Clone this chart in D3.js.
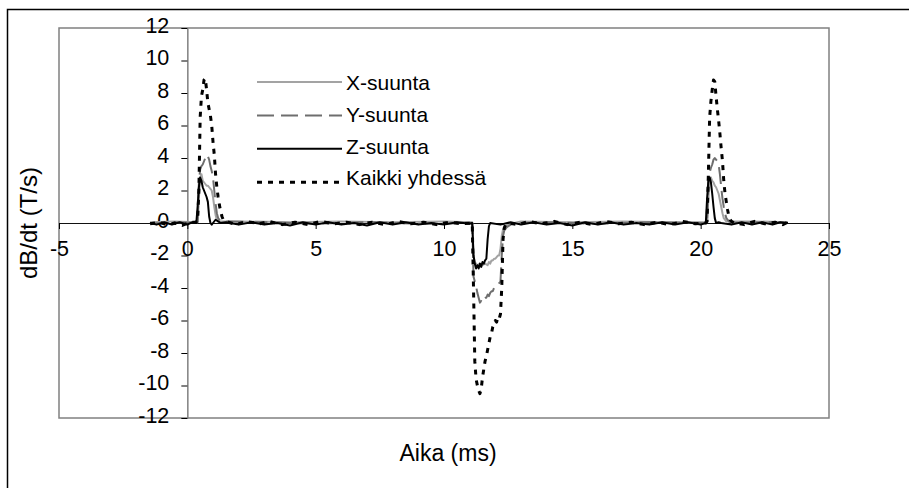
<!DOCTYPE html>
<html>
<head>
<meta charset="utf-8">
<script src="https://cdn.jsdelivr.net/npm/d3@7"></script>
<style>
  html, body { margin: 0; padding: 0; background: #fff; }
  svg { display: block; font-family: "Liberation Sans", Arial, sans-serif; }
</style>
</head>
<body>
<svg id="chart" width="909" height="488"></svg>
<script>
// ---------- data ----------
const xTicks = [-5, 0, 5, 10, 15, 20, 25];
const yTicks = [-12, -10, -8, -6, -4, -2, 0, 2, 4, 6, 8, 10, 12];
const seriesNames = ["X-suunta", "Y-suunta", "Z-suunta", "Kaikki yhdessä"];
const xTitle = "Aika (ms)";
const yTitle = "dB/dt (T/s)";

// [time (ms), dB/dt (T/s)]
const xSuunta = [
  [-1.45, 0.05], [-0.5, 0.1], [0.4, 0.05], [0.45, 1.5], [0.5, 2.8], [0.55, 3.0], [0.6, 2.6], [0.65, 2.5],
  [0.7, 2.4], [0.75, 2.3], [0.8, 2.3], [0.85, 2.2], [0.9, 2.1], [0.95, 2.0], [1.0, 1.6], [1.05, 1.0],
  [1.1, 0.5], [1.15, 0.2], [1.2, 0.1], [2, 0.1], [4, 0.05], [6, 0.1], [8, 0.05], [10, 0.1], [11.1, 0.05],
  [11.15, -2.0], [11.2, -2.4], [11.3, -2.6], [11.4, -2.5], [11.5, -2.6], [11.6, -2.5], [11.7, -2.6],
  [11.75, -2.4], [11.8, -2.5], [11.85, -2.3], [11.9, -2.3], [11.95, -2.2], [12.0, -2.2], [12.05, -2.1],
  [12.1, -2.0], [12.15, -2.0], [12.2, -1.6], [12.25, -0.8], [12.3, -0.4], [12.35, -0.25], [12.45, -0.15],
  [12.6, -0.05], [13, 0.1], [15, 0.05], [17, 0.1], [19, 0.05], [20.25, 0.05], [20.3, 1.5], [20.35, 2.6],
  [20.4, 2.8], [20.45, 2.6], [20.5, 2.5], [20.55, 2.3], [20.6, 2.2], [20.65, 2.0], [20.7, 1.8], [20.75, 1.4],
  [20.8, 1.0], [20.85, 0.6], [20.9, 0.3], [21.0, 0.1], [22, 0.1], [23.4, 0.05]
];
const ySuunta = [
  [-1.45, -0.05], [-0.5, 0.05], [0.4, 0.0], [0.45, 2.5], [0.5, 3.3], [0.55, 3.5], [0.6, 3.6], [0.65, 3.8],
  [0.7, 4.0], [0.75, 4.2], [0.8, 4.1], [0.85, 3.9], [0.9, 3.5], [0.95, 3.2], [1.0, 2.8], [1.05, 2.0],
  [1.1, 1.2], [1.15, 0.6], [1.2, 0.3], [1.3, 0.1], [3, 0.05], [5, -0.05], [7, 0.05], [9, -0.05], [11.1, 0.0],
  [11.15, -3.3], [11.2, -3.6], [11.25, -3.9], [11.3, -4.3], [11.35, -4.6], [11.4, -4.9], [11.45, -4.8],
  [11.5, -4.9], [11.55, -4.7], [11.6, -4.6], [11.65, -4.6], [11.7, -4.4], [11.75, -4.5], [11.8, -4.3],
  [11.85, -4.2], [11.9, -4.2], [11.95, -4.0], [12.0, -4.0], [12.05, -3.9], [12.1, -3.8], [12.15, -3.7],
  [12.2, -3.6], [12.25, -2.0], [12.3, -0.8], [12.35, -0.45], [12.45, -0.25], [12.6, -0.1], [12.8, 0.0],
  [14, 0.05], [16, -0.05], [18, 0.05], [20.25, 0.0], [20.3, 2.5], [20.35, 3.1], [20.4, 3.4], [20.45, 3.6],
  [20.5, 3.9], [20.55, 4.0], [20.6, 3.9], [20.65, 3.8], [20.7, 3.6], [20.75, 3.0], [20.8, 2.2], [20.85, 1.5],
  [20.9, 1.0], [20.95, 0.6], [21.0, 0.3], [21.1, 0.1], [21.2, 0.0], [22.5, 0.05], [23.4, 0.0]
];
const zSuunta = [
  [-1.45, 0.0], [-1.2, -0.1], [-0.9, 0.05], [-0.6, -0.1], [-0.3, 0.05], [0.0, -0.1], [0.2, 0.05], [0.35, 0.0],
  [0.4, 1.0], [0.45, 2.2], [0.5, 2.8], [0.55, 2.6], [0.6, 2.2], [0.65, 2.0], [0.7, 1.8], [0.75, 1.6],
  [0.8, 1.3], [0.85, 0.4], [0.9, 0.0], [0.95, -0.1], [1.0, 0.0], [1.1, 0.2], [1.2, 0.1], [1.3, 0.0],
  [1.5, 0.05], [2.0, -0.1], [2.5, 0.05], [3.0, -0.1], [3.5, 0.0], [4.0, -0.15], [4.5, 0.05], [5.0, -0.1],
  [5.5, 0.05], [6.0, -0.1], [6.5, 0.0], [7.0, -0.15], [7.5, 0.05], [8.0, -0.1], [8.5, 0.05], [9.0, -0.1],
  [9.5, 0.0], [10.0, -0.1], [10.5, 0.05], [11.0, -0.05], [11.1, 0.0],
  [11.15, -2.0], [11.2, -2.5], [11.25, -2.8], [11.3, -2.6], [11.35, -2.8], [11.4, -2.5], [11.45, -2.7],
  [11.5, -2.4], [11.55, -2.5], [11.6, -2.3], [11.65, -2.2], [11.7, -1.0], [11.75, -0.2], [11.8, 0.0],
  [12.2, -0.1], [12.6, 0.05], [13.0, -0.1], [13.5, 0.05], [14.0, -0.1], [14.5, 0.0], [15.0, -0.15],
  [15.5, 0.05], [16.0, -0.1], [16.5, 0.05], [17.0, -0.1], [17.5, 0.0], [18.0, -0.1], [18.5, 0.05],
  [19.0, -0.1], [19.5, 0.05], [20.0, -0.1], [20.2, 0.0],
  [20.25, 1.5], [20.3, 2.6], [20.35, 2.8], [20.4, 2.5], [20.45, 1.8], [20.5, 1.0], [20.55, 0.3], [20.6, 0.0],
  [20.7, 0.05], [20.8, 0.0], [21.2, -0.1], [21.6, 0.05], [22.0, -0.1], [22.4, 0.05], [22.8, -0.1],
  [23.1, 0.05], [23.4, 0.0]
];
const kaikki = [
  [-1.45, -0.05], [-1.1, 0.05], [-0.8, -0.1], [-0.5, 0.0], [-0.2, -0.15], [0.1, 0.05], [0.3, 0.05], [0.4, 0.1],
  [0.45, 2.0], [0.5, 6.5], [0.55, 7.8], [0.6, 8.2], [0.65, 8.8], [0.7, 8.9], [0.75, 8.2], [0.8, 7.4],
  [0.85, 7.0], [0.9, 6.6], [0.95, 6.0], [1.0, 5.0], [1.05, 4.2], [1.1, 3.0], [1.15, 2.2], [1.2, 1.6],
  [1.25, 1.1], [1.3, 0.7], [1.35, 0.4], [1.4, 0.2], [1.5, 0.1],
  [1.9, -0.1], [2.3, 0.1], [2.8, -0.05], [3.2, 0.1], [3.7, -0.1], [4.2, 0.05], [4.7, -0.1], [5.2, 0.1],
  [5.7, -0.05], [6.2, 0.05], [6.7, -0.1], [7.2, 0.05], [7.7, -0.1], [8.2, 0.1], [8.7, -0.05], [9.2, 0.05],
  [9.7, -0.1], [10.2, 0.05], [10.7, -0.05], [11.1, 0.0],
  [11.15, -4.0], [11.2, -8.5], [11.25, -9.6], [11.3, -10.0], [11.35, -10.3], [11.4, -10.5], [11.45, -10.2],
  [11.5, -9.5], [11.55, -9.0], [11.6, -8.5], [11.65, -8.2], [11.7, -7.8], [11.75, -7.4], [11.8, -7.0],
  [11.85, -6.8], [11.9, -6.4], [11.95, -6.2], [12.0, -6.0], [12.05, -6.1], [12.1, -5.8], [12.15, -5.9],
  [12.2, -5.6], [12.25, -4.0], [12.3, -1.0], [12.35, -0.3], [12.4, -0.1], [12.5, 0.0],
  [12.9, -0.1], [13.3, 0.1], [13.8, -0.05], [14.3, 0.1], [14.8, -0.1], [15.3, 0.05], [15.8, -0.1],
  [16.3, 0.1], [16.8, -0.05], [17.3, 0.05], [17.8, -0.1], [18.3, 0.05], [18.8, -0.1], [19.3, 0.1],
  [19.8, -0.05], [20.2, 0.0],
  [20.25, 0.1], [20.3, 3.0], [20.35, 6.5], [20.4, 7.5], [20.45, 8.2], [20.5, 8.8], [20.55, 8.7], [20.6, 7.8],
  [20.65, 7.0], [20.7, 6.3], [20.75, 5.5], [20.8, 4.6], [20.85, 3.8], [20.9, 2.6], [20.95, 1.8], [21.0, 1.3],
  [21.05, 0.8], [21.1, 0.4], [21.15, 0.2], [21.2, 0.1], [21.3, 0.0],
  [21.7, -0.1], [22.1, 0.1], [22.5, -0.05], [22.9, 0.05], [23.2, -0.1], [23.4, 0.05]
];

// ---------- drawing ----------
const svg = d3.select("#chart");
const plot = { left: 59, right: 829, top: 28, bottom: 418 };

const x = d3.scaleLinear().domain([-5, 25]).range([plot.left, plot.right]);
const y = d3.scaleLinear().domain([-12, 12]).range([plot.bottom, plot.top]);

// outer chart frame (extends past the window on the right and bottom)
svg.append("rect")
  .attr("x", 7.5).attr("y", 9.5).attr("width", 1000).attr("height", 1000)
  .attr("fill", "#fff").attr("stroke", "#000").attr("stroke-width", 1.5);

// plot area box
svg.append("rect")
  .attr("x", plot.left).attr("y", plot.top)
  .attr("width", plot.right - plot.left).attr("height", plot.bottom - plot.top)
  .attr("fill", "none").attr("stroke", "#808080").attr("stroke-width", 1.5);

const fontSize = 21.5;

// y axis at x = 0
const yAxisG = svg.append("g")
  .attr("transform", `translate(${x(0)},0)`)
  .call(d3.axisLeft(y).tickValues(yTicks).tickSize(6).tickSizeOuter(0).tickPadding(12));
yAxisG.select(".domain").attr("stroke", "#808080").attr("stroke-width", 1.5);
yAxisG.selectAll(".tick line").attr("stroke", "#000");
yAxisG.selectAll(".tick text")
  .attr("font-size", fontSize).attr("font-family", "Liberation Sans, Arial, sans-serif")
  .attr("fill", "#000").attr("dy", "0.2em")
  .text(d => d);

// x axis at y = 0
const xAxisG = svg.append("g")
  .attr("transform", `translate(0,${y(0)})`)
  .call(d3.axisBottom(x).tickValues(xTicks).tickSize(6).tickSizeOuter(0).tickPadding(12));
xAxisG.select(".domain").attr("stroke", "#111").attr("stroke-width", 1.2);
xAxisG.selectAll(".tick line").attr("stroke", "#000");
xAxisG.selectAll(".tick text")
  .attr("font-size", fontSize).attr("font-family", "Liberation Sans, Arial, sans-serif")
  .attr("fill", "#000")
  .text(d => d);

// series
const line = d3.line().x(d => x(d[0])).y(d => y(d[1]));
const styles = [
  { data: xSuunta, stroke: "#a3a3a3", width: 2, dash: null },
  { data: ySuunta, stroke: "#6e6e6e", width: 2, dash: "17,7" },
  { data: zSuunta, stroke: "#000", width: 2, dash: null },
  { data: kaikki, stroke: "#000", width: 3, dash: "5,6" }
];
styles.forEach(s => {
  svg.append("path")
    .datum(s.data)
    .attr("d", line)
    .attr("fill", "none")
    .attr("stroke", s.stroke)
    .attr("stroke-width", s.width)
    .attr("stroke-dasharray", s.dash)
    .attr("stroke-linejoin", "round");
});

// legend
const legend = svg.append("g");
seriesNames.forEach((name, i) => {
  const ly = 82 + i * 33.4;
  legend.append("line")
    .attr("x1", 257).attr("x2", 342).attr("y1", ly).attr("y2", ly)
    .attr("stroke", styles[i].stroke).attr("stroke-width", styles[i].width)
    .attr("stroke-dasharray", styles[i].dash);
  legend.append("text")
    .attr("x", 346).attr("y", 83 + i * 31.7)
    .attr("dy", "0.35em")
    .attr("font-size", 21).attr("fill", "#000")
    .text(name);
});

// axis titles
svg.append("text")
  .attr("x", (plot.left + plot.right) / 2 + 4).attr("y", 461)
  .attr("text-anchor", "middle").attr("font-size", 23).attr("fill", "#000")
  .text(xTitle);
svg.append("text")
  .attr("transform", `translate(37,${(plot.top + plot.bottom) / 2}) rotate(-90)`)
  .attr("text-anchor", "middle").attr("font-size", 24).attr("fill", "#000")
  .text(yTitle);
</script>
</body>
</html>
